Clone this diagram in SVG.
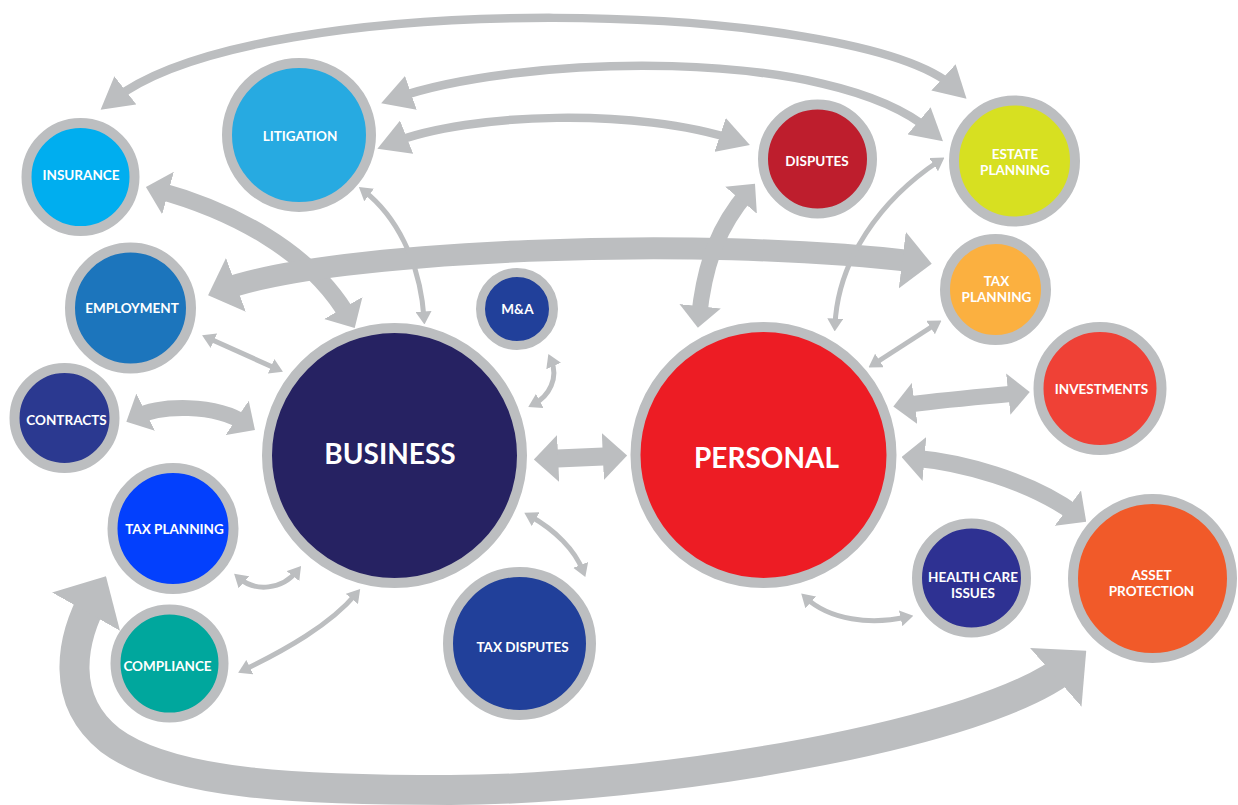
<svg xmlns="http://www.w3.org/2000/svg" width="1238" height="805" viewBox="0 0 1238 805">
<style>
.bg{fill:#ffffff}
.c{fill:none;stroke:#BCBEC0;stroke-linecap:butt}
.a{stroke-width:8.5;marker-start:url(#mA);marker-end:url(#mA)}
.t{stroke-width:5;marker-start:url(#mB);marker-end:url(#mB)}
.k{marker-start:url(#mC);marker-end:url(#mC)}
.ring{stroke:#BCBEC0;stroke-width:10}
.lb{font-family:Lato,"Open Sans","Liberation Sans",sans-serif;font-weight:700;fill:#ffffff;text-anchor:middle;font-size:13.5px}
.big{font-size:28px}
</style>
<defs>
<marker id="mA" viewBox="0 0 10 10" refX="5" refY="5" markerWidth="3.7" markerHeight="4.2" preserveAspectRatio="none" orient="auto-start-reverse"><path d="M0,0 L10,5 L0,10 z" fill="#BCBEC0"/></marker>
<marker id="mB" viewBox="0 0 10 10" refX="5" refY="5" markerWidth="2.6" markerHeight="3.2" preserveAspectRatio="none" orient="auto-start-reverse"><path d="M0,0 L10,5 L0,10 z" fill="#BCBEC0"/></marker>
<marker id="mC" viewBox="0 0 10 10" refX="5" refY="5" markerWidth="1.35" markerHeight="2.6" preserveAspectRatio="none" orient="auto-start-reverse"><path d="M0,0 L10,5 L0,10 z" fill="#BCBEC0"/></marker>
</defs>
<rect class="bg" x="0" y="0" width="1238" height="805"/>
<g id="connectors">
<path class="c a" d="M113,100 C260,-15 860,0 955,88"/>
<path class="c a" d="M396,98 C520,55 830,45 931,131"/>
<path class="c a" d="M392,143 C470,112 640,108 735,140"/>
<path class="c k" style="stroke-width:17" d="M157,190 C230,210 310,250 349,318"/>
<path class="c k" style="stroke-width:22" d="M222,290 C330,250 700,235 917,262"/>
<path class="c t" d="M364,191 C395,215 420,260 424,318"/>
<path class="c t" d="M208,338 L277,369"/>
<path class="c t" d="M551,360 C559,378 549,396 534,404"/>
<path class="c k" style="stroke-width:16" d="M136,417 C160,405 215,403 246,424"/>
<path class="c k" style="stroke-width:18" d="M546,459 L615,456"/>
<path class="c t" d="M239,578 C255,592 282,590 297,571"/>
<path class="c t" d="M244,670 C285,650 330,625 356,594"/>
<path class="c t" d="M530,516 C555,530 575,550 583,571"/>
<path class="c k" style="stroke-width:30" d="M96,594 C70,640 60,700 110,740 C170,785 300,790 450,790 C650,790 990,735 1071,664"/>
<path class="c k" style="stroke-width:16" d="M748,192 C720,225 705,260 699,317"/>
<path class="c t" d="M939,161 C880,200 838,260 835,325"/>
<path class="c t" d="M874,364 L936,324"/>
<path class="c k" style="stroke-width:16" d="M904,405 C940,400 990,396 1019,393"/>
<path class="c k" style="stroke-width:17" d="M913,458 C960,462 1030,480 1077,515"/>
<path class="c t" d="M806,598 C830,620 870,625 907,617"/>
</g>
<g id="insurance"><circle class="ring" cx="80.5" cy="177" r="54" fill="#00AEEF"/><text class="lb" x="81" y="180">INSURANCE</text></g>
<g id="litigation"><circle class="ring" cx="299" cy="135" r="72" fill="#27AAE1"/><text class="lb" x="300" y="140.5">LITIGATION</text></g>
<g id="employment"><circle class="ring" cx="130.5" cy="308" r="60.5" fill="#1C75BC"/><text class="lb" x="132" y="312.5">EMPLOYMENT</text></g>
<g id="ma"><circle class="ring" cx="517" cy="309" r="36.5" fill="#21409A" style="stroke-width:9"/><text class="lb" x="517.5" y="314">M&amp;A</text></g>
<g id="contracts"><circle class="ring" cx="64.5" cy="418" r="50" fill="#2B3990"/><text class="lb" x="66.5" y="425">CONTRACTS</text></g>
<g id="tax-planning-business"><circle class="ring" cx="173" cy="528.5" r="60.5" fill="#0340FD"/><text class="lb" x="174.5" y="534">TAX PLANNING</text></g>
<g id="compliance"><circle class="ring" cx="169.5" cy="663.5" r="54" fill="#00A79D"/><text class="lb" x="167.5" y="671">COMPLIANCE</text></g>
<g id="business"><circle class="ring" cx="394.5" cy="455.5" r="127.5" fill="#262262"/><text class="lb big" x="390" y="464">BUSINESS</text></g>
<g id="tax-disputes"><circle class="ring" cx="519.5" cy="643.5" r="71.5" fill="#21409A"/><text class="lb" x="522.5" y="652">TAX DISPUTES</text></g>
<g id="disputes"><circle class="ring" cx="817.5" cy="159" r="54.5" fill="#BE1E2D"/><text class="lb" x="817" y="165.5">DISPUTES</text></g>
<g id="estate-planning"><circle class="ring" cx="1014.5" cy="161" r="60.5" fill="#D7E021"/><text class="lb" x="1015" y="159">ESTATE</text><text class="lb" x="1015" y="175">PLANNING</text></g>
<g id="tax-planning-personal"><circle class="ring" cx="995.5" cy="289.5" r="50.5" fill="#FBB040"/><text class="lb" x="996.5" y="286">TAX</text><text class="lb" x="996.5" y="302">PLANNING</text></g>
<g id="investments"><circle class="ring" cx="1100" cy="388.5" r="61.5" fill="#EF4136"/><text class="lb" x="1101.5" y="394">INVESTMENTS</text></g>
<g id="personal"><circle class="ring" cx="763.5" cy="455" r="128" fill="#ED1C24"/><text class="lb big" x="766.5" y="467.5">PERSONAL</text></g>
<g id="health-care"><circle class="ring" cx="971.5" cy="578" r="54.5" fill="#2E3192"/><text class="lb" x="973" y="581.5">HEALTH CARE</text><text class="lb" x="973" y="597.5">ISSUES</text></g>
<g id="asset-protection"><circle class="ring" cx="1152.5" cy="578.5" r="79.5" fill="#F15A29"/><text class="lb" x="1151.5" y="580">ASSET</text><text class="lb" x="1151.5" y="596">PROTECTION</text></g>
</svg>
